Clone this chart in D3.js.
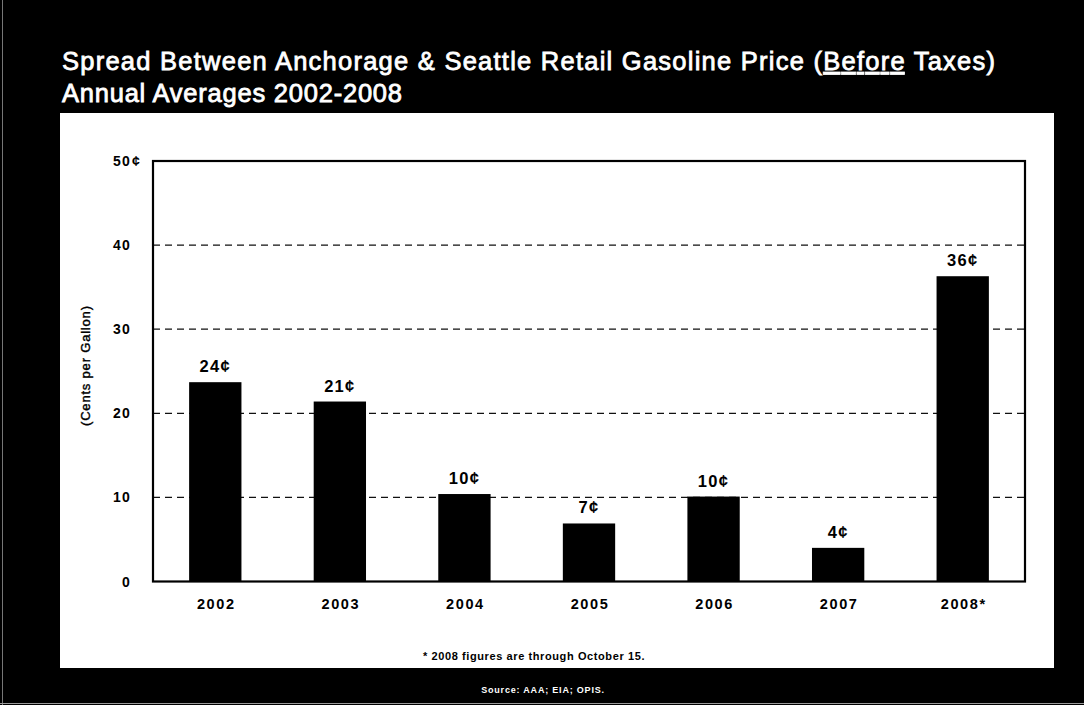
<!DOCTYPE html>
<html>
<head>
<meta charset="utf-8">
<script src="https://cdn.jsdelivr.net/npm/d3@7"></script>
<style>
  html, body { margin: 0; padding: 0; background: #000; }
  svg { display: block; }
  text { font-family: "Liberation Sans", Arial, sans-serif; }
</style>
</head>
<body>
<svg id="chart" width="1084" height="705"></svg>
<script>
// Annual average spread, Anchorage vs Seattle retail gasoline (cents per gallon, before taxes)
const years = ["2002", "2003", "2004", "2005", "2006", "2007", "2008*"];
const spreadCents = [23.7, 21.4, 10.4, 6.9, 10.1, 4.0, 36.3];
const yTicks = [0, 10, 20, 30, 40, 50];
const titleLine1 = ["Spread Between Anchorage & Seattle Retail Gasoline Price (", "Before", " Taxes)"];
const titleLine2 = "Annual Averages 2002-2008";
const yAxisTitle = "(Cents per Gallon)";
const footnote = "* 2008 figures are through October 15.";
const sourceNote = "Source: AAA; EIA; OPIS.";

const svg = d3.select("#chart");
const W = 1084, H = 705;

svg.append("rect").attr("width", W).attr("height", H).attr("fill", "#000");
// faint frame edges
svg.append("line").attr("x1", 2.5).attr("x2", 2.5).attr("y1", 0).attr("y2", H)
  .attr("stroke", "#777").attr("stroke-width", 1);
svg.append("line").attr("x1", 0).attr("x2", W).attr("y1", 703.5).attr("y2", 703.5)
  .attr("stroke", "#999").attr("stroke-width", 1);

// Title (regular face, thickened with a thin stroke)
const titleStyle = sel => sel.attr("fill", "#fff").attr("stroke", "#fff")
  .attr("stroke-width", 0.8).attr("font-size", 25.5).attr("lengthAdjust", "spacing");
const t1 = svg.append("text").attr("x", 62).attr("y", 70)
  .call(titleStyle).attr("textLength", 933);
t1.append("tspan").text(titleLine1[0]);
t1.append("tspan").attr("text-decoration", "underline").text(titleLine1[1]);
t1.append("tspan").text(titleLine1[2]);
svg.append("text").attr("x", 62).attr("y", 102)
  .call(titleStyle).attr("textLength", 340)
  .text(titleLine2);

// White panel
svg.append("rect").attr("x", 60).attr("y", 113).attr("width", 994).attr("height", 555)
  .attr("fill", "#fff");

// Plot area
const plot = { left: 153, right: 1025, top: 161, bottom: 581.5 };

const x = d3.scaleBand().domain(years)
  .range([plot.left, plot.right])
  .paddingInner(0.58).paddingOuter(0.29);
const y = d3.scaleLinear().domain([0, 50]).range([plot.bottom, plot.top]);

// Dashed gridlines
svg.append("g").selectAll("line")
  .data(yTicks.filter(d => d > 0 && d < 50))
  .join("line")
  .attr("x1", plot.left).attr("x2", plot.right)
  .attr("y1", d => y(d)).attr("y2", d => y(d))
  .attr("stroke", "#111").attr("stroke-width", 1.2)
  .attr("stroke-dasharray", "7,5");

// Bars
svg.append("g").selectAll("rect")
  .data(years.map((yr, i) => ({ yr, v: spreadCents[i] })))
  .join("rect")
  .attr("x", d => x(d.yr))
  .attr("width", x.bandwidth())
  .attr("y", d => y(d.v))
  .attr("height", d => y(0) - y(d.v))
  .attr("fill", "#000");

// Value labels
svg.append("g").selectAll("text")
  .data(years.map((yr, i) => ({ yr, v: spreadCents[i] })))
  .join("text")
  .attr("x", d => x(d.yr) + x.bandwidth() / 2)
  .attr("y", d => y(d.v) - 10)
  .attr("text-anchor", "middle")
  .attr("font-size", 16.5).attr("font-weight", "bold")
  .attr("letter-spacing", 1.3)
  .attr("fill", "#000")
  .text(d => Math.round(d.v) + "\u00a2");

// Plot frame
svg.append("rect")
  .attr("x", plot.left).attr("y", plot.top)
  .attr("width", plot.right - plot.left).attr("height", plot.bottom - plot.top)
  .attr("fill", "none").attr("stroke", "#000").attr("stroke-width", 2.2);

// Y tick labels
const yLab = svg.append("g");
yLab.selectAll("text")
  .data(yTicks)
  .join("text")
  .attr("x", 131)
  .attr("y", d => y(d) + 5)
  .attr("text-anchor", "end")
  .attr("font-size", 14).attr("font-weight", "bold")
  .attr("letter-spacing", 1.2)
  .attr("fill", "#000")
  .text(d => d);
yLab.append("text")
  .attr("x", 132).attr("y", y(d3.max(yTicks)) + 5)
  .attr("font-size", 14).attr("font-weight", "bold")
  .attr("fill", "#000")
  .text("\u00a2");

// X tick labels
svg.append("g").selectAll("text")
  .data(years)
  .join("text")
  .attr("x", d => x(d) + x.bandwidth() / 2 + 1)
  .attr("y", 609)
  .attr("text-anchor", "middle")
  .attr("font-size", 14.5).attr("font-weight", "bold")
  .attr("letter-spacing", 1.6)
  .attr("fill", "#000")
  .text(d => d);

// Y axis title
svg.append("text")
  .attr("transform", "translate(90,366) rotate(-90)")
  .attr("text-anchor", "middle")
  .attr("font-size", 13)
  .attr("fill", "#000").attr("stroke", "#000").attr("stroke-width", 0.4)
  .attr("textLength", 120).attr("lengthAdjust", "spacing")
  .text(yAxisTitle);

// Footnote
svg.append("text")
  .attr("x", 534).attr("y", 660)
  .attr("text-anchor", "middle")
  .attr("font-size", 11).attr("font-weight", "bold")
  .attr("letter-spacing", 0.6)
  .attr("fill", "#000")
  .text(footnote);

// Source
svg.append("text")
  .attr("x", 543).attr("y", 693)
  .attr("text-anchor", "middle")
  .attr("font-size", 9).attr("font-weight", "bold")
  .attr("letter-spacing", 0.8)
  .attr("fill", "#fff")
  .text(sourceNote);
</script>
</body>
</html>
